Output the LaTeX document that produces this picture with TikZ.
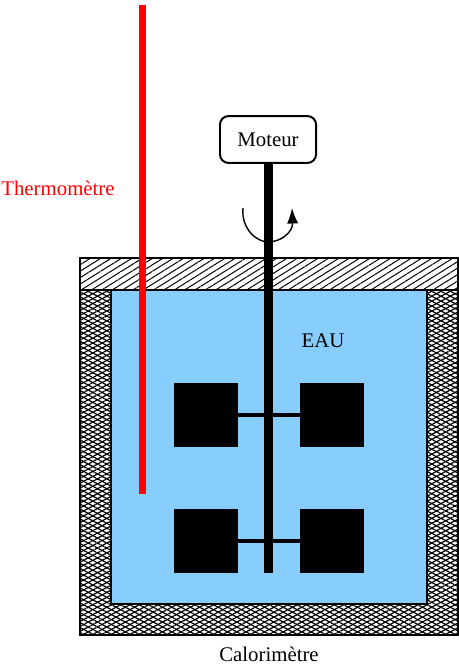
\documentclass[tikz,border=0pt]{standalone}
\usepackage{fontspec}
\setmainfont{Liberation Serif}
\usetikzlibrary{patterns.meta,arrows.meta}
\definecolor{eau}{RGB}{135,206,255}
\begin{document}
\begin{tikzpicture}[
                x=0.025cm,
                y=-0.025cm,
                font=\fontsize{14.8}{17}\selectfont,
                >={Latex[length=11pt,width=8pt]},
                % Stili per le parti del calorimetro
                wallbox/.style={
                    draw,
                    line width=0.8pt,
                    preaction={pattern={Lines[angle=28,distance=3.1pt,line width=0.85pt]}},
                    pattern={Lines[angle=-28,distance=3.1pt,line width=0.85pt]}
                },
                lidbox/.style={
                    draw,
                    line width=0.8pt,
                    preaction={fill=white},
                    pattern={Lines[angle=32,distance=3.9pt,line width=0.7pt]}
                },
                blade/.style={
                    fill=black,
                    minimum width=1.6cm,
                    minimum height=1.6cm,
                    inner sep=0pt
                },
                motorbox/.style={
                    draw,
                    line width=1.4pt,
                    rounded corners=6pt,
                    fill=white,
                    minimum width=2.4cm,
                    minimum height=1.17cm
                }
            ]

                \useasboundingbox (0,0) rectangle (459,664);

                % --- Parois et couvercle ---
                \draw[wallbox] (80,258) rectangle (458,635);
                \fill[eau] (111,290) rectangle (427,604);
                \draw[line width=0.8pt] (111,290) -- (111,604) -- (427,604) -- (427,290);
                \draw[lidbox] (80,258) rectangle (458,290);
                \node at (323,340.5) (E) {EAU};

                % --- Pales ---
                \node[blade] (P1) at (206,415) {};
                \node[blade] (P2) at (332,415) {};
                \node[blade] (P3) at (206,541) {};
                \node[blade] (P4) at (332,541) {};
                \draw[line width=3pt] (P1) -- (P2);
                \draw[line width=3pt] (P3) -- (P4);

                % --- Moteur et axe ---
                \node[motorbox] (M) at (268,139.5) {Moteur};
                \coordinate (A) at (268.5,573);
                \draw[line width=7pt] (M.south -| A) -- (A);

                % --- Sens de rotation ---
                \coordinate (R1) at (243,208);
                \coordinate (R2) at (292,208);
                \draw[->, line width=1pt] (R1) .. controls (241,229) and (257,242) .. (268,242)
                    .. controls (281,242) and (293,232) .. (R2);

                % --- Thermometre ---
                \coordinate (T1) at (142.5,5);
                \coordinate (T2) at (142.5,494);
                \draw[red, line width=5pt] (T1) -- (T2);
                \node[red] (T) at (58,188.5) {Thermomètre};

                % --- Legende ---
                \node[inner sep=0pt] (C) at (269,654.5) {Calorimètre};

            \end{tikzpicture}
\end{document}
